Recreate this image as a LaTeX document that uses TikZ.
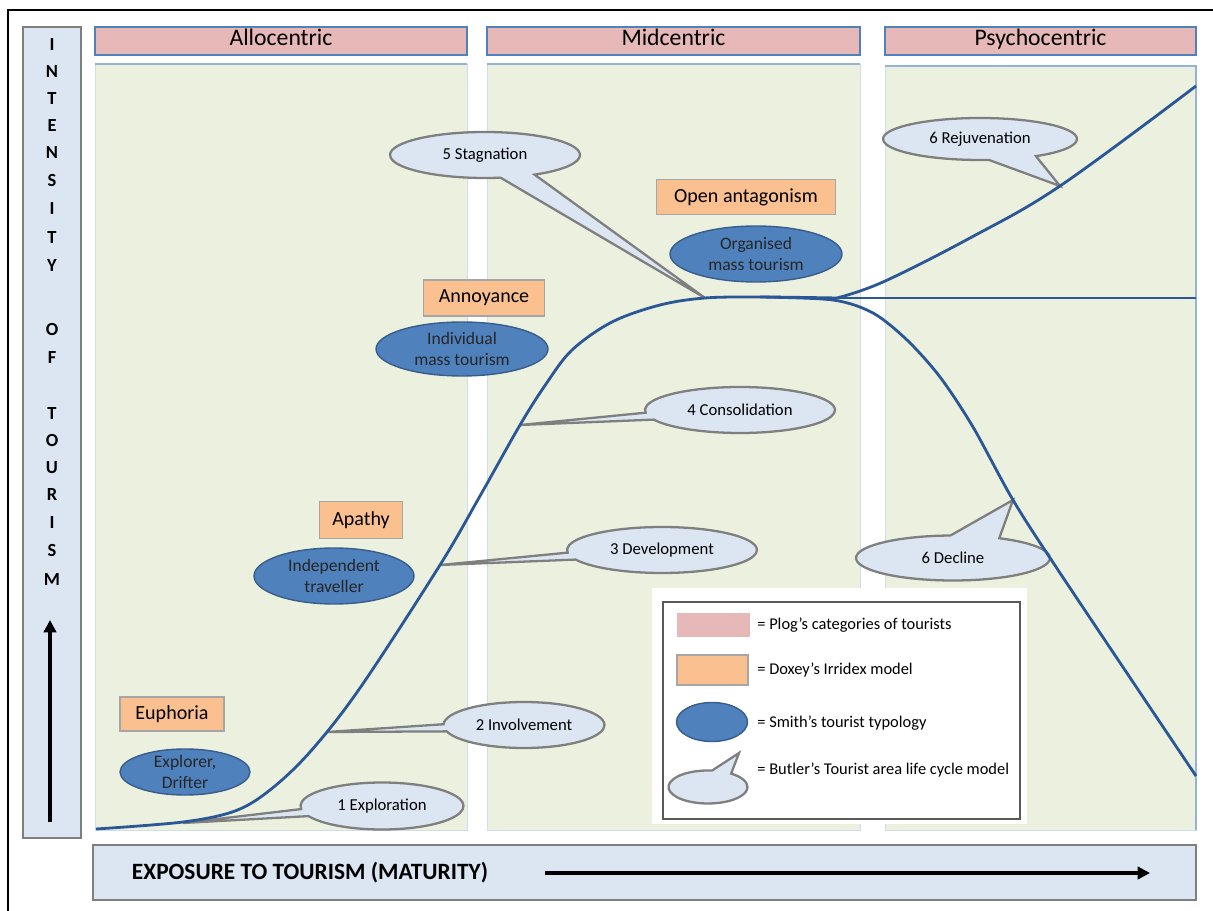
\documentclass[tikz,border=0pt]{standalone}
\usepackage{fontspec}
\setmainfont{Carlito}
\usetikzlibrary{shapes.geometric,shapes.callouts,arrows.meta}

\definecolor{plogpink}{HTML}{E6B9B8}
\definecolor{panelgreen}{HTML}{EBF1DE}
\definecolor{panelline}{HTML}{95B3D7}
\definecolor{headline}{HTML}{4F81BD}
\definecolor{doxeyorange}{HTML}{FAC090}
\definecolor{smithblue}{HTML}{4F81BD}
\definecolor{smithline}{HTML}{385D8A}
\definecolor{butlerblue}{HTML}{DCE6F2}
\definecolor{butlerline}{HTML}{7F7F7F}
\definecolor{curveblue}{HTML}{2B5797}

\tikzset{
  axisbox/.style={draw=butlerline, fill=butlerblue, line width=1.6pt},
  axisletter/.style={font=\fontsize{10.5}{12}\selectfont\bfseries, inner sep=0pt},
  axisarrow/.style={line width=2.4pt, -{Triangle[length=7pt,width=7pt]}},
  header/.style={draw=headline, fill=plogpink, line width=1pt, inner sep=0pt,
    minimum height=0.56cm, text height=1.6ex, text depth=0.45ex,
    font=\fontsize{13.5}{15}\selectfont},
  panel/.style={draw=panelline!45, fill=panelgreen, line width=0.5pt},
  paneltop/.style={draw=panelline, line width=1pt},
  doxey/.style={draw=black!35, fill=doxeyorange, line width=0.8pt, inner sep=0pt,
    font=\fontsize{11.4}{13}\selectfont},
  smith/.style={ellipse, draw=smithline, fill=smithblue, line width=0.8pt, inner sep=0pt,
    align=center, text=black!85, font=\fontsize{10}{11.5}\selectfont},
  butler/.style={ellipse callout, draw=butlerline, fill=butlerblue, line width=1.3pt,
    inner sep=0pt, callout pointer arc=18, font=\fontsize{9.5}{11}\selectfont},
  lifecurve/.style={draw=curveblue, line width=1.6pt, line join=round},
  legendtext/.style={anchor=west, inner sep=0pt, font=\fontsize{9.35}{11}\selectfont}
}

\begin{document}
\begin{tikzpicture}[x=0.02cm, y=-0.02cm]
\useasboundingbox (0,0) rectangle (1213,911);

% outer frame
\draw[line width=1.6pt] (8,911) -- (8,10) -- (1213,10);

% vertical axis
\draw[axisbox] (23,27) rectangle (81,838);
\foreach \l/\y in {I/45,N/72,T/99,E/126,N/153,S/181,I/209,T/238,Y/266,
                   O/330,F/358,T/414,O/441,U/468,R/495,I/523,S/551,M/580}
  \node[axisletter] (ax\y) at (52,\y) {\l};
\coordinate (upfoot) at (50,822);
\coordinate (uphead) at (50,620);
\draw[axisarrow] (upfoot) -- (uphead);

% horizontal axis
\draw[axisbox] (93,845) rectangle (1196,900);
\node[font=\fontsize{13.3}{15}\selectfont\bfseries, inner sep=0pt] (xlabel) at (310,873)
  {EXPOSURE TO TOURISM (MATURITY)};
\coordinate (rtfoot) at (545,873);
\coordinate (rthead) at (1150,873);
\draw[axisarrow] (rtfoot) -- (rthead);

% panels
\draw[panel] (95,64) rectangle (467,830);
\draw[panel] (487,64) rectangle (860,830);
\draw[panel] (885,66) rectangle (1196,830);
\draw[paneltop] (95,64) -- (467,64);
\draw[paneltop] (487,64) -- (860,64);
\draw[paneltop] (885,66) -- (1196,66) -- (1196,830);
\fill[white] (652,588) rectangle (1027,824);

% Plog headers
\node[header, minimum width=7.44cm] (allo) at (281,41) {Allocentric};
\node[header, minimum width=7.46cm] (mid) at (673.5,41) {Midcentric};
\node[header, minimum width=6.22cm] (psycho) at (1040.5,41) {Psychocentric};

% Butler stages
\coordinate (t1) at (183,823);
\coordinate (t2) at (327,732);
\coordinate (t3) at (440,565);
\coordinate (t4) at (520,425);
\coordinate (t5) at (705,298);
\coordinate (t6r) at (1060,186);
\coordinate (t6d) at (1013,500);
\node[butler, minimum width=3.26cm, minimum height=0.94cm, callout absolute pointer={(t1)}]
  (explor) at (382,806) {1 Exploration};
\node[butler, minimum width=3.22cm, minimum height=0.92cm, callout absolute pointer={(t2)}]
  (involv) at (524,725) {2 Involvement};
\node[butler, minimum width=3.8cm, minimum height=0.92cm, callout absolute pointer={(t3)}]
  (devel) at (662,550) {3 Development};
\node[butler, minimum width=3.8cm, minimum height=0.92cm, callout absolute pointer={(t4)}]
  (consol) at (740,410) {4 Consolidation};
\node[butler, minimum width=3.8cm, minimum height=0.92cm, callout pointer arc=22,
  callout absolute pointer={(t5)}] (stagn) at (485,155) {5 Stagnation};
\node[butler, minimum width=3.88cm, minimum height=0.84cm, callout pointer arc=30,
  callout absolute pointer={(t6r)}] (rejuv) at (980,139) {6 Rejuvenation};
\node[butler, minimum width=3.88cm, minimum height=0.9cm, callout pointer arc=30,
  callout absolute pointer={(t6d)}] (declin) at (953,558) {6 Decline};

% Doxey irridex
\node[doxey, minimum width=2.08cm, minimum height=0.68cm] (euph) at (172,714) {Euphoria};
\node[doxey, minimum width=1.66cm, minimum height=0.74cm] (apathy) at (361,520) {Apathy};
\node[doxey, minimum width=2.42cm, minimum height=0.72cm] (annoy) at (484,298) {Annoyance};
\node[doxey, minimum width=3.58cm, minimum height=0.7cm] (antag) at (746,197) {Open antagonism};

% Smith typology
\node[smith, minimum width=2.6cm, minimum height=0.88cm] (explorer) at (185,772) {Explorer,\\Drifter};
\node[smith, minimum width=3.2cm, minimum height=1.12cm] (indep) at (334,576) {Independent\\traveller};
\node[smith, minimum width=3.44cm, minimum height=1.08cm] (indmass) at (462,349) {Individual\\mass tourism};
\node[smith, minimum width=3.44cm, minimum height=1.12cm] (orgmass) at (756,254) {Organised\\mass tourism};

% life cycle curve
\draw[lifecurve] plot[smooth, tension=0.55] coordinates {(96,829) (183,822) (235,811)
  (270,790) (310,752) (360,688) (440,565) (480,496) (520,425) (546,384)
  (572,350) (612,322) (660,305) (705,298) (760,297) (837,298)};
\draw[lifecurve] (837,298) -- (1196,298);
\draw[lifecurve] plot[smooth, tension=0.6] coordinates {(837,298) (883,282) (970,238)
  (1060,186) (1196,86)};
\draw[lifecurve] plot[smooth, tension=0.5] coordinates {(760,297) (833,300) (873,313)
  (907,340) (940,377) (973,427) (1013,500) (1060,573) (1196,776)};

% legend
\draw[draw=black!65, line width=0.8pt] (663,602) rectangle (1020,819);
\node[fill=plogpink, minimum width=1.46cm, minimum height=0.5cm, inner sep=0pt] (kplog) at (713,625) {};
\node[doxey, minimum width=1.42cm, minimum height=0.6cm] (kdoxey) at (712.5,670) {};
\node[smith, minimum width=1.42cm, minimum height=0.78cm] (ksmith) at (712,722) {};
\coordinate (tkey) at (739,753);
\node[butler, minimum width=1.58cm, minimum height=0.66cm, callout pointer arc=30,
  callout absolute pointer={(tkey)}] (kbutler) at (708,787) {};
\node[legendtext] (lplog) at (757,625) {= Plog’s categories of tourists};
\node[legendtext] (ldoxey) at (757,670) {= Doxey’s Irridex model};
\node[legendtext] (lsmith) at (757,723) {= Smith’s tourist typology};
\node[legendtext] (lbutler) at (757,770) {= Butler’s Tourist area life cycle model};
\end{tikzpicture}
\end{document}
